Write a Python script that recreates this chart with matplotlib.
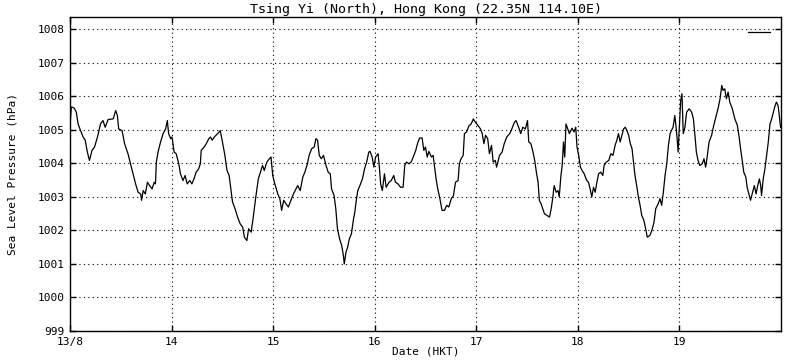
import matplotlib
matplotlib.use('Agg')
import matplotlib.pyplot as plt
import numpy as np

# hours since 13/8 00:00 HKT and sea level pressure (hPa)
hours = [
    0.0, 0.3, 0.5, 1.0, 1.5, 1.9, 2.5, 3.1, 3.6, 4.1, 4.6, 5.2, 5.8, 6.6, 7.2, 7.8,
    8.3, 9.0, 10.2, 10.8, 11.2, 11.5, 12.3, 12.9, 13.7, 14.3, 14.9, 15.5, 16.1, 16.7,
    16.9, 17.3, 17.8, 18.3, 18.8, 19.4, 19.9, 20.2, 20.4, 20.8, 21.4, 22.0, 22.6, 23.0,
    23.3, 23.8, 24.1, 24.6, 25.1, 25.7, 26.1, 26.7, 27.2, 27.7, 28.3, 28.8, 29.3, 29.8,
    30.4, 30.8, 31.0, 31.7, 32.2, 32.8, 33.2, 33.6,
    34.1, 34.9, 35.5, 36.1, 36.6, 37.1, 37.6, 38.0, 38.4, 39.0, 39.6, 40.2, 40.8, 41.2,
    41.8, 42.2, 42.8, 43.2, 43.6, 43.9, 44.5, 45.0, 45.5, 45.9, 46.5, 47.1, 47.5, 47.9,
    48.4, 49.1, 49.6, 50.0, 50.5, 51.0, 51.6, 52.2, 52.8, 53.2, 53.8, 54.4, 55.0, 55.5,
    56.1, 56.5, 57.1, 57.7, 58.1, 58.5, 58.9, 59.4, 59.9, 60.5, 61.0, 61.5, 61.8, 62.4,
    62.8, 63.2, 63.7, 64.2, 64.6, 64.8, 65.2, 65.6, 66.0, 66.5, 67.0, 67.3,
    67.7, 68.0, 68.5, 69.1, 69.6, 70.1, 70.6, 70.9, 71.4, 71.8, 72.2, 72.8, 73.1, 73.4,
    73.8, 74.3, 74.7, 75.4, 75.9, 76.5, 76.9, 77.5, 78.1, 78.7, 79.1, 79.5, 80.1, 80.6,
    81.1, 81.7, 82.1, 82.6, 83.2, 83.6, 84.0, 84.4, 84.8, 85.4, 85.8, 86.1, 86.5, 86.9,
    87.4, 87.9, 88.5, 89.0, 89.5, 90.1, 90.6, 91.1, 91.7, 92.0, 92.4, 92.9, 93.2, 93.7,
    94.3, 94.8, 95.3, 95.8, 96.4, 97.0, 97.4, 97.8, 98.2, 98.7, 99.1, 99.6, 100.0, 100.5,
    100.8, 101.2,
    101.5, 102.1, 102.6, 103.2, 103.9, 104.4, 105.0, 105.4, 106.0, 106.5, 107.0, 107.6,
    108.1, 108.4, 108.9, 109.4, 109.8, 110.2, 110.6, 110.9, 111.3, 111.7, 112.1, 112.7,
    113.3, 113.7, 114.1, 114.4, 114.9, 115.3, 115.6, 116.0, 116.3, 116.6, 116.9, 117.2,
    117.6, 118.0, 118.6, 119.1, 119.5, 119.8, 120.2, 120.6, 121.0, 121.5, 122.1, 122.5,
    122.9, 123.3, 123.7, 124.1, 124.5, 124.9, 125.4, 125.9, 126.2, 126.7, 127.3, 127.8,
    128.3, 128.8, 129.2, 129.6, 130.0, 130.4, 130.8, 131.2, 131.6, 132.0, 132.4, 132.8,
    133.2, 133.5, 133.9, 134.3, 134.7,
    135.1, 135.6, 136.1, 136.4, 137.0, 137.5, 138.0, 138.4, 139.0, 139.4, 139.8, 140.2,
    140.6, 141.0, 141.4, 141.8, 142.1, 142.5, 142.9, 143.3, 143.7, 143.9, 144.3, 144.6,
    144.9, 145.3, 145.7, 146.3, 146.9, 147.3, 147.7, 148.0, 148.4, 148.8, 149.4, 149.8,
    150.2, 150.6, 151.0, 151.6, 152.1, 152.6, 153.2, 153.6, 154.0, 154.3, 154.7, 155.1,
    155.5, 155.9, 156.5, 157.1, 157.7, 158.1, 158.5, 158.9, 159.2, 159.7, 160.0, 160.5,
    160.8, 161.3, 161.7, 162.1, 162.5, 162.9, 163.2, 163.4, 163.8, 164.2, 164.6, 165.0,
    165.4, 165.8, 166.2, 166.5, 166.9, 167.3, 167.5, 167.9,
]
pressure = [
    1005.10, 1005.68, 1005.68, 1005.65, 1005.53, 1005.18, 1004.98, 1004.79, 1004.69, 1004.34,
    1004.09, 1004.39, 1004.49, 1004.84, 1005.18, 1005.28, 1005.08, 1005.31, 1005.33, 1005.58,
    1005.43, 1005.03, 1004.98, 1004.59, 1004.29, 1003.99, 1003.69, 1003.39, 1003.14, 1003.09,
    1002.90, 1003.19, 1003.09, 1003.44, 1003.34, 1003.24, 1003.44, 1003.39, 1004.04, 1004.34,
    1004.64, 1004.89, 1005.03, 1005.28, 1004.89, 1004.74, 1004.79, 1004.34, 1004.29, 1003.99,
    1003.69, 1003.49, 1003.64, 1003.39, 1003.49, 1003.39, 1003.54, 1003.74, 1003.84, 1003.99,
    1004.39, 1004.49, 1004.59, 1004.74, 1004.79, 1004.69,
    1004.79, 1004.89, 1004.98, 1004.59, 1004.24, 1003.79, 1003.64, 1003.24, 1002.85, 1002.65,
    1002.40, 1002.20, 1002.10, 1001.80, 1001.70, 1002.05, 1001.95, 1002.30, 1002.70, 1003.00,
    1003.54, 1003.74, 1003.94, 1003.79, 1004.04, 1004.14, 1004.19, 1003.64, 1003.39, 1003.09,
    1002.94, 1002.60, 1002.90, 1002.80, 1002.70, 1002.90, 1003.09, 1003.19, 1003.34, 1003.19,
    1003.59, 1003.74, 1003.99, 1004.24, 1004.44, 1004.49, 1004.74, 1004.69, 1004.24, 1004.14,
    1004.24, 1003.94, 1003.74, 1003.69, 1003.24, 1003.04, 1002.65, 1002.05, 1001.75, 1001.55,
    1001.25, 1001.00, 1001.35, 1001.50, 1001.75, 1001.90, 1002.35, 1002.55,
    1002.95, 1003.19, 1003.34, 1003.54, 1003.84, 1004.04, 1004.34, 1004.36, 1004.19, 1003.89,
    1004.19, 1004.29, 1003.89, 1003.39, 1003.19, 1003.69, 1003.29, 1003.44, 1003.49, 1003.64,
    1003.44, 1003.39, 1003.29, 1003.29, 1003.94, 1004.04, 1003.99, 1004.04, 1004.19, 1004.39,
    1004.59, 1004.76, 1004.76, 1004.39, 1004.49, 1004.19, 1004.36, 1004.19, 1004.24, 1003.94,
    1003.54, 1003.24, 1002.95, 1002.60, 1002.60, 1002.75, 1002.70, 1002.95, 1003.04, 1003.44,
    1003.49, 1003.99, 1004.14, 1004.24, 1004.89, 1004.94, 1005.13, 1005.18, 1005.33, 1005.23,
    1005.13, 1005.03, 1004.89, 1004.59, 1004.84, 1004.74, 1004.29, 1004.54, 1004.04, 1004.09,
    1003.89, 1004.09,
    1004.24, 1004.34, 1004.59, 1004.79, 1004.89, 1005.03, 1005.23, 1005.28, 1005.08, 1004.89,
    1005.08, 1005.03, 1005.28, 1004.64, 1004.59, 1004.34, 1004.09, 1003.74, 1003.44, 1002.90,
    1002.80, 1002.65, 1002.50, 1002.45, 1002.40, 1002.65, 1003.00, 1003.34, 1003.14, 1003.19,
    1003.00, 1003.64, 1003.94, 1004.64, 1004.19, 1005.18, 1005.03, 1004.89, 1005.05, 1004.94,
    1005.08, 1004.49, 1004.24, 1003.89, 1003.79, 1003.69, 1003.49, 1003.44, 1003.24, 1003.00,
    1003.29, 1003.14, 1003.44, 1003.69, 1003.74, 1003.64, 1003.94, 1004.04, 1004.09, 1004.29,
    1004.24, 1004.54, 1004.69, 1004.89, 1004.64, 1004.84, 1005.03, 1005.08, 1004.98, 1004.84,
    1004.59, 1004.44, 1003.99, 1003.64, 1003.34, 1003.00, 1002.75,
    1002.45, 1002.30, 1002.00, 1001.80, 1001.85, 1002.00, 1002.25, 1002.65, 1002.80, 1002.95,
    1002.75, 1003.14, 1003.64, 1003.99, 1004.54, 1004.89, 1004.98, 1005.08, 1005.43, 1004.98,
    1004.34, 1004.89, 1005.88, 1006.08, 1004.89, 1005.08, 1005.53, 1005.63, 1005.53, 1005.33,
    1004.79, 1004.34, 1004.09, 1003.94, 1003.99, 1004.14, 1003.89, 1004.24, 1004.64, 1004.84,
    1005.13, 1005.38, 1005.68, 1005.93, 1006.33, 1006.18, 1006.23, 1005.93, 1006.13, 1005.83,
    1005.63, 1005.33, 1005.13, 1004.79, 1004.39, 1004.04, 1003.74, 1003.59, 1003.29, 1003.04,
    1002.90, 1003.14, 1003.34, 1003.09, 1003.34, 1003.54, 1003.34, 1003.04, 1003.54, 1003.84,
    1004.24, 1004.64, 1005.18, 1005.33, 1005.53, 1005.68, 1005.83, 1005.73, 1005.53, 1005.08,
]

day_labels = ['13/8', '14', '15', '16', '17', '18', '19']
y_ticks = [999, 1000, 1001, 1002, 1003, 1004, 1005, 1006, 1007, 1008]

plt.rcParams['font.family'] = 'DejaVu Sans Mono'
plt.rcParams['font.size'] = 8

fig = plt.figure(figsize=(8, 3.6), dpi=100)
ax = fig.add_axes([70 / 800, 29 / 360, 711 / 800, 314 / 360])

days = np.array(hours) / 24.0
ax.plot(days, pressure, color='black', linewidth=0.9, label=' ')

ax.set_xlim(0, 7)
ax.set_ylim(999, 1008.37)
ax.set_xticks(range(len(day_labels)))
ax.set_xticklabels(day_labels)
ax.set_yticks(y_ticks)

ax.grid(True, color='black', linestyle=(0, (1, 3)), linewidth=0.8)
ax.tick_params(direction='in', length=4, width=1, top=True, right=True, pad=4)
for s in ax.spines.values():
    s.set_linewidth(1.0)

ax.set_title('Tsing Yi (North), Hong Kong (22.35N 114.10E)', pad=3)
ax.set_xlabel('Date (HKT)')
ax.xaxis.set_label_coords(0.5, -0.05)
ax.set_ylabel('Sea Level Pressure (hPa)')
ax.yaxis.set_label_coords(-0.074, 0.5)

ax.legend(loc='upper right', bbox_to_anchor=(1 - 4 / 711, 1 - 11 / 314), frameon=False,
          handlelength=2.0, handletextpad=0.0, borderaxespad=0, borderpad=0)

fig.savefig('out.png', dpi=100)
